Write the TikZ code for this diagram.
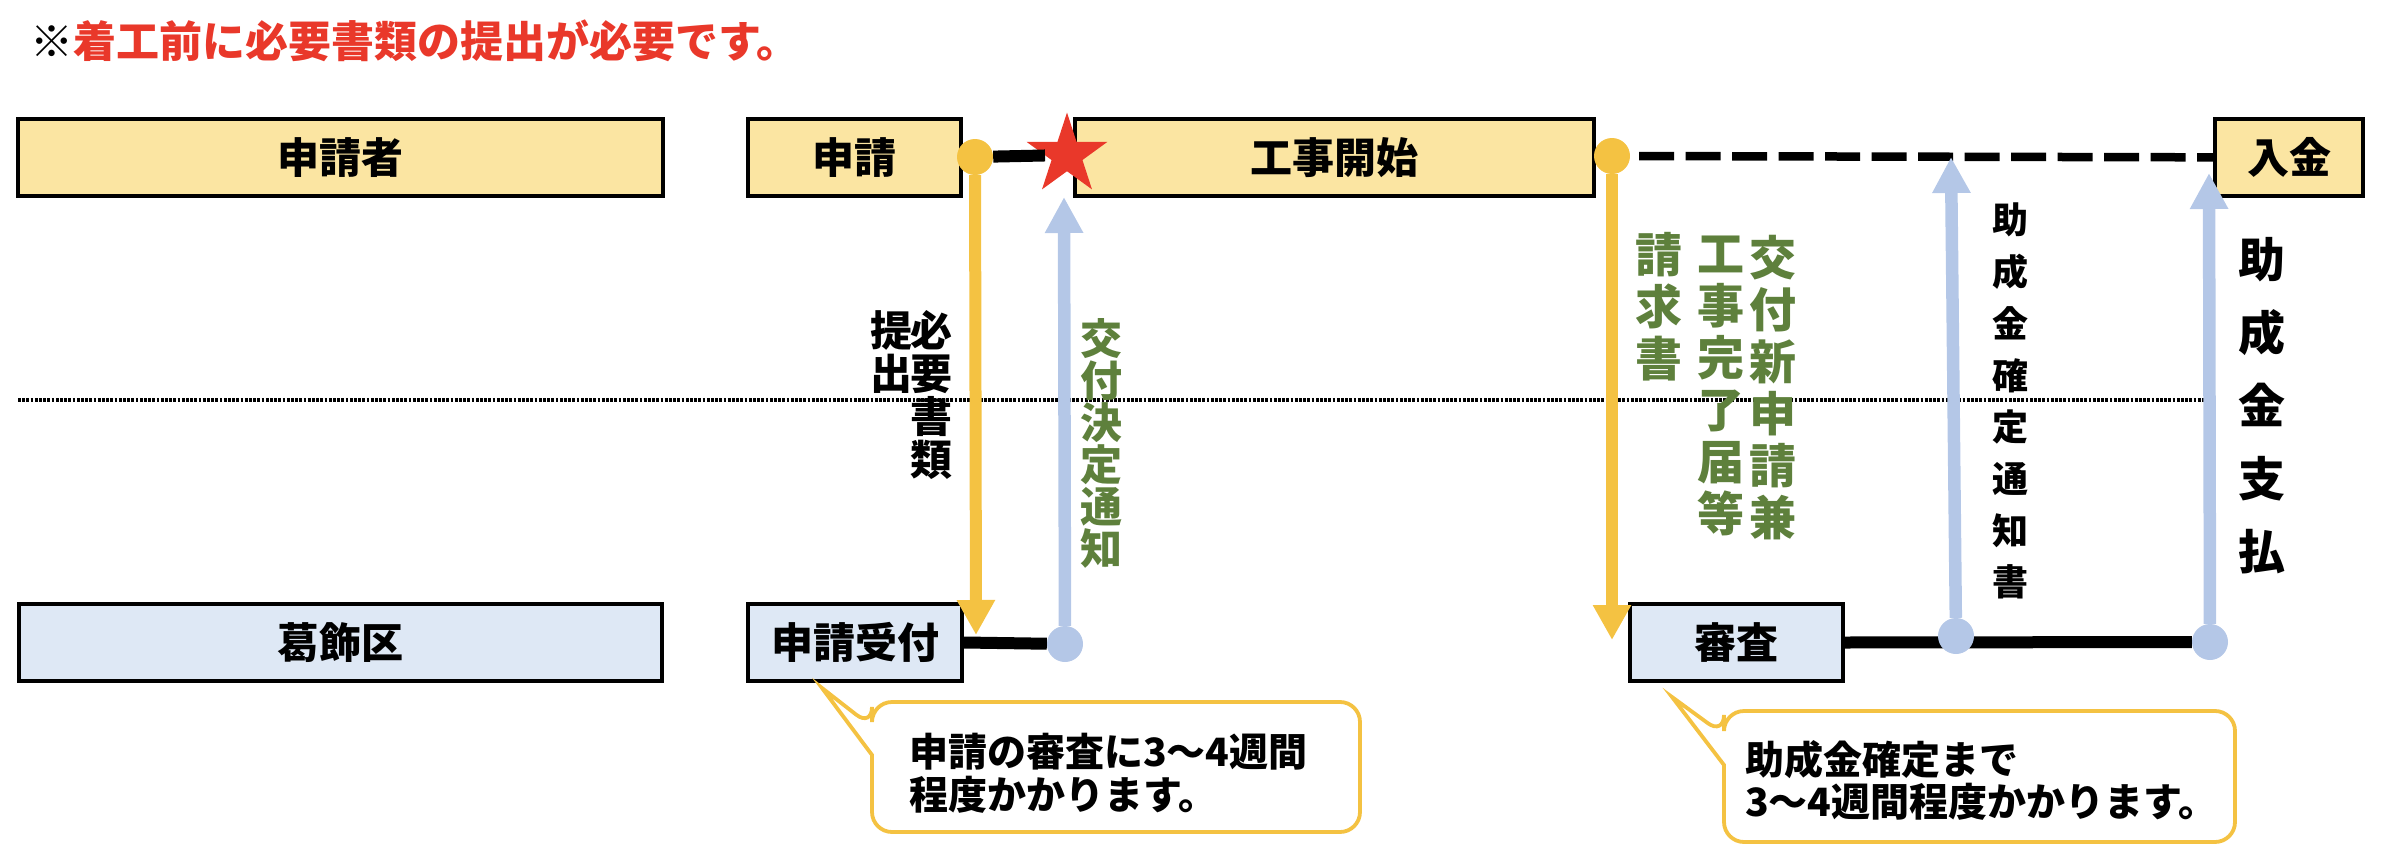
\documentclass[tikz,border=0pt]{standalone}
\usepackage{fontspec}
\newfontfamily\jp{Noto Sans CJK JP}
\usetikzlibrary{arrows.meta,shapes.geometric}
\definecolor{gold}{RGB}{244,194,66}
\definecolor{sky}{RGB}{180,199,231}
\definecolor{cream}{RGB}{251,229,162}
\definecolor{ice}{RGB}{222,232,245}
\definecolor{leaf}{RGB}{94,128,60}
\definecolor{alert}{RGB}{233,56,42}

\begin{document}
\begin{tikzpicture}
    [x=1pt, y=-1pt,
    every node/.style={inner sep=0pt, font=\jp\bfseries},
    laneBox/.style={draw=black, line width=3.8pt, minimum height=77.5pt,
        font=\jp\bfseries\fontsize{42}{42}\selectfont},
    homeBox/.style={laneBox, fill=cream},
    wardBox/.style={laneBox, fill=ice},
    knob/.style={circle, minimum size=36pt},
    wire/.style={draw=black, line width=12pt},
    goldArrow/.style={draw=gold, line width=12pt, -{Triangle[length=35pt, width=36pt]}},
    skyArrow/.style={draw=sky, line width=12.5pt, -{Triangle[length=36pt, width=36pt]}},
    tate/.style={align=center, anchor=north},
    note/.style={draw=gold, line width=3.8pt, fill=white},
    noteText/.style={anchor=north west, align=left,
        font=\jp\bfseries\fontsize{39}{42.5}\selectfont}]
    \useasboundingbox (0,0) rectangle (2386,862);
    \coordinate (lane l) at (18,400);
    \coordinate (lane r) at (2209,400);
    \draw[line width=3.5pt, dash pattern=on 2.7pt off 1.5pt] (lane l) -- (lane r);

    \node[anchor=base west, font=\jp\bfseries\fontsize{43}{43}\selectfont] (caution)
        at (30,57) {※\textcolor{alert}{着工前に必要書類の提出が必要です。}};

    \node[homeBox, minimum width=645.5pt] (applicant) at (340.5,157.5) {申請者};
    \node[homeBox, minimum width=213.5pt] (apply) at (854.5,157.5) {申請};
    \node[homeBox, minimum width=519.5pt] (start) at (1334.5,157.5) {工事開始};
    \node[homeBox, minimum width=148.5pt] (pay) at (2289,157.5) {入金};
    \node[wardBox, minimum width=643.5pt] (katsushika) at (340.5,642.5) {葛飾区};
    \node[wardBox, minimum width=214.5pt] (accept) at (855,642.5) {申請受付};
    \node[wardBox, minimum width=213.5pt] (review) at (1736.5,642.5) {審査};

    \node[knob, fill=gold] (sent) at (975,157) {};
    \node[knob, fill=gold] (built) at (1612,156) {};
    \node[knob, fill=sky] (notice) at (1065,644) {};
    \node[knob, fill=sky] (paid) at (2210,642) {};
    \node[star, star points=5, star point ratio=2.618, minimum size=85pt,
        fill=alert] (go) at (1067,155) {};

    \draw[wire] (sent) -- (go);
    \draw[wire] (accept.east) -- (notice);
    \draw[wire] (review.east) -- (paid);
    \draw[wire, line width=8.5pt, dash pattern=on 35pt off 11.5pt, dash phase=37.5pt]
        (built) -- (pay);
    \node[knob, fill=sky] (fixed) at (1956,636) {};

    \coordinate (docs tip) at (976,635);
    \coordinate (grant tip) at (1064,197);
    \coordinate (claim tip) at (1612,640);
    \coordinate (fixed tip) at (1951,157);
    \coordinate (paid tip) at (2209,173);
    \draw[goldArrow] (sent) -- (docs tip);
    \draw[skyArrow] (notice) -- (grant tip);
    \draw[goldArrow] (built) -- (claim tip);
    \draw[skyArrow] (fixed) -- (fixed tip);
    \draw[skyArrow] (paid) -- (paid tip);

    \node[tate, font=\jp\bfseries\fontsize{42}{43}\selectfont] (docs)
        at (931,310) {必\\要\\書\\類};
    \node[tate, font=\jp\bfseries\fontsize{42}{43}\selectfont] (submit)
        at (891,310) {提\\出};
    \node[tate, text=leaf, font=\jp\bfseries\fontsize{42}{42}\selectfont] (grant)
        at (1101,318) {交\\付\\決\\定\\通\\知};
    \node[tate, text=leaf, font=\jp\bfseries\fontsize{47}{52}\selectfont] (reapply)
        at (1773,235) {交\\付\\新\\申\\請\\兼};
    \node[tate, text=leaf, font=\jp\bfseries\fontsize{47}{52}\selectfont] (report)
        at (1721,236) {工\\事\\完\\了\\届\\等};
    \node[tate, text=leaf, font=\jp\bfseries\fontsize{47}{52}\selectfont] (invoice)
        at (1659,232) {請\\求\\書};
    \node[tate, font=\jp\bfseries\fontsize{36}{51.7}\selectfont] (fixnote)
        at (2010,203) {助\\成\\金\\確\\定\\通\\知\\書};
    \node[tate, font=\jp\bfseries\fontsize{47}{73}\selectfont] (payout)
        at (2262,237) {助\\成\\金\\支\\払};

    \draw[note] (872,727) -- (822,688) -- (872,755) [rounded corners=20pt]
        -- (872,832) -- (1360,832) -- (1360,702) -- (872,702) -- cycle;
    \node[noteText] (wait1) at (909,733) {申請の審査に3～4週間\\程度かかります。};
    \draw[note] (1724,735) -- (1672,697) -- (1724,765) [rounded corners=20pt]
        -- (1724,842) -- (2235,842) -- (2235,711) -- (1724,711) -- cycle;
    \node[noteText] (wait2) at (1745,740) {助成金確定まで\\3～4週間程度かかります。};
\end{tikzpicture}
\end{document}
